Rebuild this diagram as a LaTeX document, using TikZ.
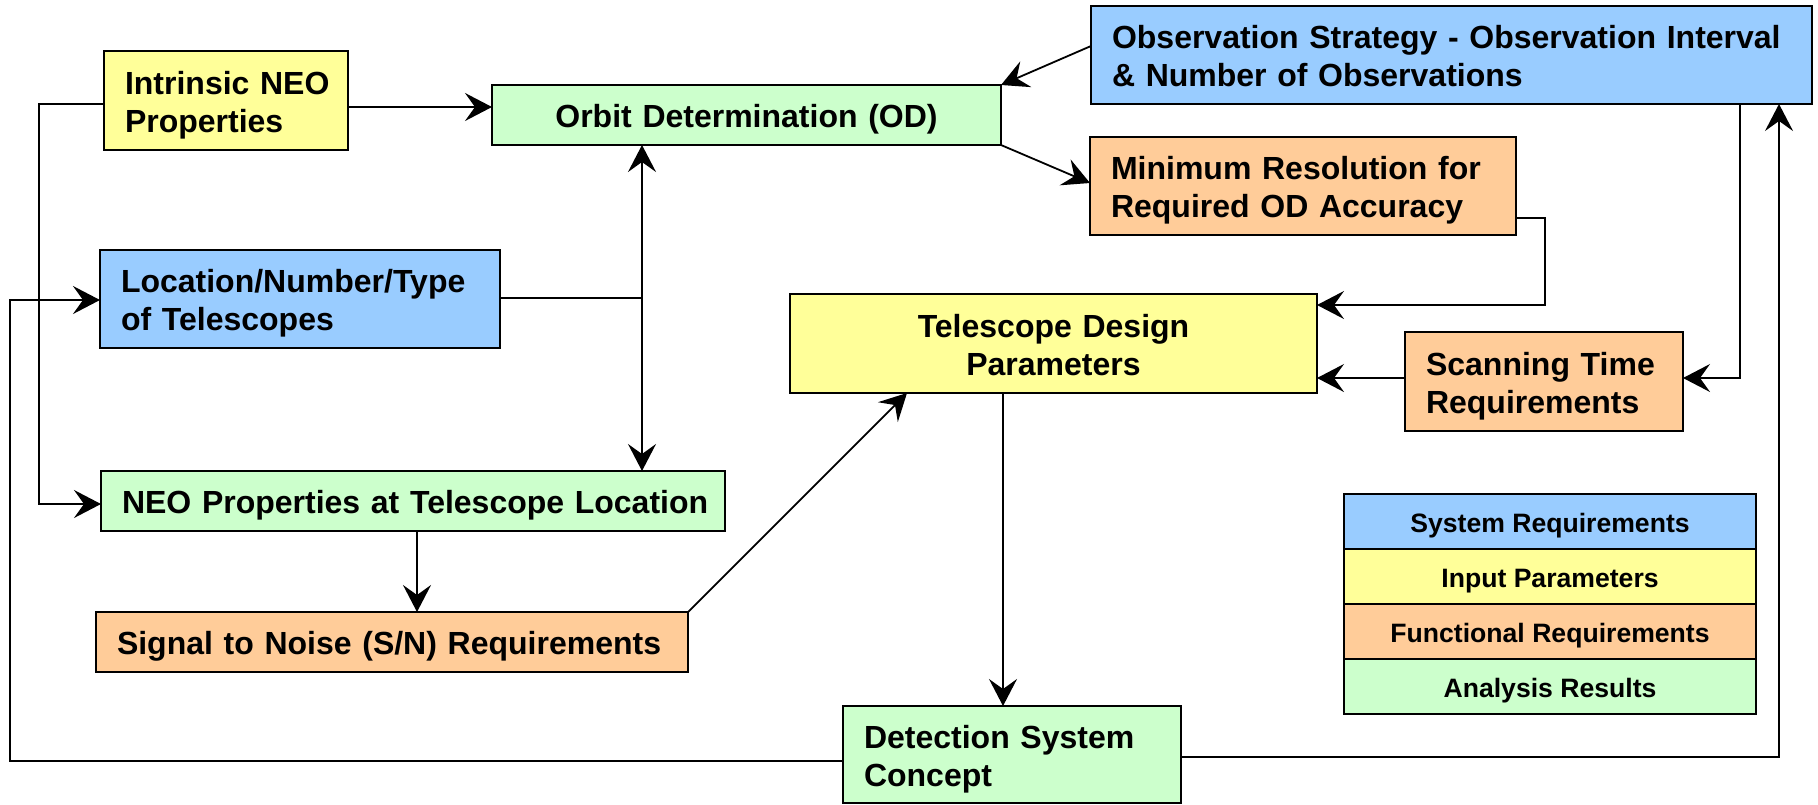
\documentclass[tikz,border=0pt]{standalone}
\usepackage{fontspec}
\setmainfont{Liberation Sans}
\usetikzlibrary{arrows.meta,calc}
\definecolor{cblue}{HTML}{99CCFF}
\definecolor{cyellow}{HTML}{FFFF99}
\definecolor{corange}{HTML}{FFCC99}
\definecolor{cgreen}{HTML}{CCFFCC}
\newcommand\mybox[9]{%
 \pgfmathsetmacro\bw{(#7-#5)*0.5}%
 \pgfmathsetmacro\bh{(#8-#6)*0.5}%
 \pgfmathsetmacro\tw{\bw-21}%
 \node[boxstyle, fill=#2, align=#3, anchor=north west, minimum height=\bh pt, text width=\tw pt] (#1) at (#5,#6)
   {\raisebox{-2.5pt}[\height][\depth]{\begin{tabular}{@{}#4@{}}#9\end{tabular}}};}
\newcommand\lowtext[1]{\raisebox{-2.3pt}[\height][\depth]{#1}}
\begin{document}
\begin{tikzpicture}[x=0.5pt,y=-0.5pt,
  boxstyle/.style={draw=black, line width=1.2pt, outer sep=0pt, inner xsep=10.5pt, inner ysep=0pt,
    font=\fontsize{16pt}{19pt}\selectfont\bfseries},
  legstyle/.style={draw=black, line width=1.2pt, outer sep=0pt, inner sep=0pt, anchor=north west,
    minimum width=206pt, minimum height=27.5pt, font=\fontsize{13.3pt}{15pt}\selectfont\bfseries},
  conn/.style={line width=0.9pt},
  arr/.style={line width=0.9pt, -{Stealth[length=13.5pt,width=14pt,inset=5pt]}}]
\useasboundingbox (0,0) rectangle (1818,804);

\mybox{intr}{cyellow}{left}{l}{104}{51}{348}{150}{Intrinsic NEO\\Properties}
\mybox{od}{cgreen}{center}{c}{492}{85}{1001}{145}{Orbit Determination (OD)}
\mybox{obs}{cblue}{left}{l}{1091}{6}{1812}{104}{Observation Strategy - Observation Interval\\\& Number of Observations}
\mybox{minres}{corange}{left}{l}{1090}{137}{1516}{235}{Minimum Resolution for\\Required OD Accuracy}
\mybox{loc}{cblue}{left}{l}{100}{250}{500}{348}{Location/Number/Type\\of Telescopes}
\mybox{tdp}{cyellow}{center}{c}{790}{294}{1317}{393}{Telescope Design\\Parameters}
\mybox{scan}{corange}{left}{l}{1405}{332}{1683}{431}{Scanning Time\\Requirements}
\mybox{neo}{cgreen}{left}{l}{101}{471}{725}{531}{NEO Properties at Telescope Location}
\mybox{sn}{corange}{left}{l}{96}{612}{688}{672}{Signal to Noise (S/N) Requirements}
\mybox{det}{cgreen}{left}{l}{843}{706}{1181}{803}{Detection System\\Concept}

\node[legstyle, fill=cblue] (leg1) at (1344,494) {\lowtext{System Requirements}};
\node[legstyle, fill=cyellow] (leg2) at (1344,549) {\lowtext{Input Parameters}};
\node[legstyle, fill=corange] (leg3) at (1344,604) {\lowtext{Functional Requirements}};
\node[legstyle, fill=cgreen] (leg4) at (1344,659) {\lowtext{Analysis Results}};

% connectors
\draw[arr] (intr.east |- 0,107) -- (od.west |- 0,107);
\draw[arr] (intr.west |- 0,104) -- (39,104) -- (39,504) -- (neo.west |- 0,504);
\draw[arr] (obs.west |- 0,46) -- (od.north east);
\draw[arr] (od.south east) -- (minres.west |- 0,183);
\draw[arr] (minres.east |- 0,218) -- (1545,218) -- (1545,305) -- (tdp.east |- 0,305);
\draw[arr] (scan.west |- 0,378) -- (tdp.east |- 0,378);
\draw[arr] (obs.south -| 1740,0) -- (1740,378) -- (scan.east |- 0,378);
\coordinate (j) at (642,298);
\draw[conn] (loc.east |- j) -- (j);
\draw[arr] (j) -- (od.south -| j);
\draw[arr] (j) -- (neo.north -| j);
\draw[arr] (det.west |- 0,761) -- (10,761) -- (10,300) -- (loc.west |- 0,300);
\draw[arr] (neo.south -| 417,0) -- (sn.north -| 417,0);
\draw[arr] (sn.north east) -- (tdp.south -| 907,0);
\draw[arr] (tdp.south -| 1003,0) -- (det.north -| 1003,0);
\draw[arr] (det.east |- 0,757) -- (1779,757) -- (obs.south -| 1779,0);
\end{tikzpicture}
\end{document}
